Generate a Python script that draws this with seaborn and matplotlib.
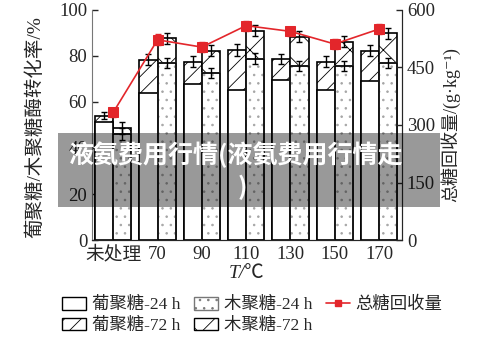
import numpy as np
import pandas as pd
import matplotlib
matplotlib.use('Agg')
import matplotlib.pyplot as plt
import seaborn as sns
from matplotlib.patches import Rectangle, Patch
from matplotlib.lines import Line2D

categories = ['未处理', '70', '90', '110', '130', '150', '170']
glucan_24h = [51.3, 64.0, 67.7, 65.2, 69.6, 65.2, 69.1]
glucan_72h = [54.0, 78.3, 77.5, 82.6, 78.7, 77.5, 82.2]
xylan_24h = [46.0, 76.8, 72.5, 78.8, 75.8, 75.7, 77.1]
xylan_72h = [48.7, 87.7, 82.3, 91.0, 88.4, 86.2, 89.9]
glucan_72h_err = [1.5, 2.4, 2.3, 2.5, 2.2, 2.3, 2.4]
xylan_24h_err = [2.5, 2.2, 2.3, 2.4, 2.2, 2.3, 2.2]
xylan_72h_err = [2.6, 2.4, 2.5, 2.5, 2.3, 2.4, 2.4]
total_sugar = [333, 522, 503, 559, 544, 511, 550]
total_err = [12, 14, 12, 13, 12, 13, 13]

sns.set_style('ticks')
plt.rcParams['font.family'] = ['Liberation Serif', 'Noto Sans CJK SC', 'DejaVu Sans']
plt.rcParams['hatch.linewidth'] = 0.6
plt.rcParams['hatch.color'] = 'black'

red = '#e3262b'
white = {'葡聚糖': 'white', '木聚糖': 'white'}

df72 = pd.DataFrame({'T': categories * 2,
                     '糖': ['葡聚糖'] * 7 + ['木聚糖'] * 7,
                     'v': glucan_72h + xylan_72h})
df24 = pd.DataFrame({'T': categories * 2,
                     '糖': ['葡聚糖'] * 7 + ['木聚糖'] * 7,
                     'v': glucan_24h + xylan_24h})

fig = plt.figure(figsize=(5, 3.41), dpi=100)
ax = fig.add_axes([0.184, 0.296, 0.62, 0.675])

sns.barplot(data=df72, x='T', y='v', hue='糖', hue_order=['葡聚糖', '木聚糖'],
            palette=white, saturation=1, width=0.82, edgecolor='black',
            linewidth=1.2, errorbar=None, legend=False, ax=ax)
sns.barplot(data=df24, x='T', y='v', hue='糖', hue_order=['葡聚糖', '木聚糖'],
            palette=white, saturation=1, width=0.82, edgecolor='black',
            linewidth=1.2, errorbar=None, legend=False, ax=ax)

g72, x72, g24, x24 = ax.containers[:4]
for b in g72:
    b.set_hatch('//')
for b in x72:
    b.set_hatch('x')
# 点状填充用灰色, 外框再描一遍黑色
for b in x24:
    b.set_hatch('..')
    b.set_edgecolor('#a5a5a5')
    ax.add_patch(Rectangle(b.get_xy(), b.get_width(), b.get_height(), fill=False,
                           edgecolor='black', linewidth=1.2, zorder=b.get_zorder()))

def centers(cont):
    return [b.get_x() + b.get_width() / 2 for b in cont]

ekw = dict(fmt='none', ecolor='black', elinewidth=1.0, capsize=2.5, capthick=1.0, zorder=5)
ax.errorbar(centers(g72), glucan_72h, yerr=glucan_72h_err, **ekw)
ax.errorbar(centers(x72), xylan_72h, yerr=xylan_72h_err, **ekw)
ax.errorbar(centers(x24), xylan_24h, yerr=xylan_24h_err, **ekw)

ax.set_ylim(0, 100)
ax.set_yticks([0, 20, 40, 60, 80, 100])
ax.set_xlim(-0.48, 6.52)
ax.tick_params(axis='y', direction='in', length=4, labelsize=13.5, width=1)
ax.tick_params(axis='x', length=0, labelsize=13.5, pad=4)
ax.set_xlabel('T/℃', fontsize=14, fontstyle='italic', labelpad=1)
ax.set_ylabel('葡聚糖/木聚糖酶转化率/%', fontsize=14, labelpad=0)
ax.yaxis.set_label_coords(-0.155, 0.49)
ax.spines['top'].set_visible(False)
ax.spines['left'].set_color('#777777')
ax.spines['bottom'].set_color('#444444')

ax2 = ax.twinx()
x_pos = np.arange(len(categories))
sns.lineplot(x=x_pos, y=total_sugar, ax=ax2, color=red, marker='s',
             markersize=7, markeredgecolor=red, linewidth=1.2, zorder=6)
ax2.errorbar(x_pos, total_sugar, yerr=total_err, fmt='none', ecolor=red,
             elinewidth=1.0, capsize=2.5, capthick=1.0, zorder=6)
ax2.set_ylim(0, 600)
ax2.set_yticks([0, 150, 300, 450, 600])
ax2.set_xlim(-0.48, 6.52)
ax2.tick_params(axis='y', direction='in', length=4, labelsize=13.5, width=1)
ax2.set_ylabel('总糖回收量/(g·kg⁻¹)', fontsize=13, labelpad=4)
ax2.spines['top'].set_visible(False)
ax2.spines['left'].set_visible(False)

handles = [Patch(facecolor='white', edgecolor='black', label='葡聚糖-24 h'),
           Patch(facecolor='white', edgecolor='black', hatch='//', label='葡聚糖-72 h'),
           Patch(facecolor='white', edgecolor='#777777', hatch='..', label='木聚糖-24 h'),
           Patch(facecolor='white', edgecolor='black', hatch='x', label='木聚糖-72 h'),
           Line2D([], [], color=red, marker='s', markersize=5, linewidth=1.2, label='总糖回收量')]
fig.legend(handles=handles, ncol=3, loc='upper center', bbox_to_anchor=(0.505, 0.175),
           frameon=False, fontsize=12.5, handlelength=1.35, handleheight=0.75,
           handletextpad=0.35, columnspacing=0.8, labelspacing=0.25)

# 水印条
fig.patches.append(Rectangle((58 / 500, 1 - 207 / 341), 382 / 500, 74 / 341,
                             transform=fig.transFigure, facecolor='black',
                             alpha=0.4, edgecolor='none', zorder=10))
fig.text(68 / 500, 1 - 155 / 341, '液氨费用行情(液氨费用行情走', color='white',
         fontsize=18, fontweight='bold', family=['Noto Sans CJK SC'],
         ha='left', va='center', zorder=11)
fig.text(238 / 500, 1 - 187 / 341, ')', color='white',
         fontsize=18, fontweight='bold', family=['Noto Sans CJK SC'],
         ha='left', va='center', zorder=11)

fig.savefig('out.png', dpi=100)
